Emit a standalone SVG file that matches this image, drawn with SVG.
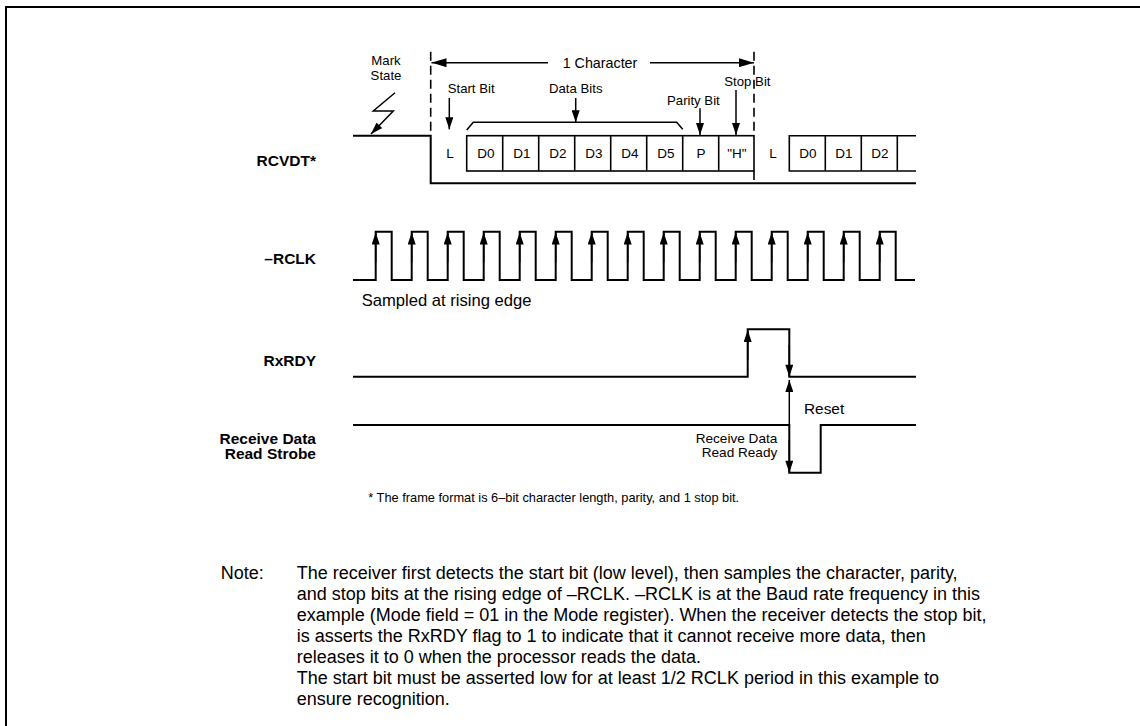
<svg xmlns="http://www.w3.org/2000/svg" width="1140" height="726" viewBox="0 0 1140 726">
<style>
text{font-family:"Liberation Sans",Arial,sans-serif;fill:#000}
.lbl{font-size:15.5px;font-weight:bold;text-anchor:end}
.sm{font-size:13.2px}
.bx{font-size:13.5px;text-anchor:middle}
.note{font-size:18px}
.wave{fill:none;stroke:#000;stroke-width:2;stroke-linejoin:miter}
.box{fill:none;stroke:#000;stroke-width:1.6}
.arr{fill:none;stroke:#000;stroke-width:1.5}
.dash{fill:none;stroke:#000;stroke-width:1.6;stroke-dasharray:9 5}
</style>
<defs>
<marker id="ah" viewBox="0 0 12 8" refX="12" refY="4" markerUnits="userSpaceOnUse" markerWidth="13" markerHeight="8" orient="auto"><path d="M0,0 L12,4 L0,8 z" fill="#000"/></marker>
<marker id="ahL" viewBox="0 0 15 9" refX="15" refY="4.5" markerUnits="userSpaceOnUse" markerWidth="15" markerHeight="9" orient="auto"><path d="M0,0 L15,4.5 L0,9 z" fill="#000"/></marker>
</defs>
<rect width="1140" height="726" fill="#fff"/>
<path d="M6,726 V7 H1140" fill="none" stroke="#000" stroke-width="2"/>

<g id="labels">
<text class="lbl" x="316" y="165.5">RCVDT*</text>
<text class="lbl" x="316" y="263.5">–RCLK</text>
<text class="lbl" x="316" y="365.5">RxRDY</text>
<text class="lbl" x="316" y="443.5">Receive Data</text>
<text class="lbl" x="316" y="459">Read Strobe</text>
</g>

<g id="rcvdt">
<path class="wave" d="M353,135.7 H430.7 V183.3 H916"/>
<line class="dash" x1="430.7" y1="51.7" x2="430.7" y2="135.7"/>
<line class="dash" x1="754" y1="51.7" x2="754" y2="135.7"/>
<line class="dash" x1="754" y1="171" x2="754" y2="183.3"/>
<rect class="box" x="466.7" y="135.7" width="287.3" height="35.3"/>
<path class="box" d="M502.7,135.7V171 M538.7,135.7V171 M574.7,135.7V171 M610.7,135.7V171 M646.7,135.7V171 M682.7,135.7V171 M718.7,135.7V171"/>
<path class="box" d="M916,135.7 H789.3 V171 H916 M825.3,135.7V171 M861.3,135.7V171 M897.3,135.7V171"/>
<text class="bx" x="450" y="158">L</text>
<text class="bx" x="486" y="158">D0</text>
<text class="bx" x="522" y="158">D1</text>
<text class="bx" x="558" y="158">D2</text>
<text class="bx" x="594" y="158">D3</text>
<text class="bx" x="630" y="158">D4</text>
<text class="bx" x="666" y="158">D5</text>
<text class="bx" x="701" y="158">P</text>
<text class="bx" x="737" y="158">"H"</text>
<text class="bx" x="773" y="158">L</text>
<text class="bx" x="808" y="158">D0</text>
<text class="bx" x="844" y="158">D1</text>
<text class="bx" x="880" y="158">D2</text>
</g>

<g id="rcvdt-annotations">
<text class="sm" x="386" y="65.4" text-anchor="middle">Mark</text>
<text class="sm" x="386" y="79.7" text-anchor="middle">State</text>
<text x="600" y="67.8" font-size="14.3" text-anchor="middle">1 Character</text>
<text class="sm" x="447.7" y="93">Start Bit</text>
<text class="sm" x="549" y="93">Data Bits</text>
<text class="sm" x="724.3" y="86.4">Stop Bit</text>
<text class="sm" x="667" y="105.4">Parity Bit</text>
<path class="arr" d="M466.7,130 L473.3,122.3 H676.7 L682.7,129.3"/>
</g>

<g id="rclk">
<path class="wave" d="M353,280 H375.7 V231.7 H391.7 V280 H411.7 V231.7 H427.7 V280 H447.7 V231.7 H463.7 V280 H483.7 V231.7 H499.7 V280 H519.7 V231.7 H535.7 V280 H555.7 V231.7 H571.7 V280 H591.7 V231.7 H607.7 V280 H627.7 V231.7 H643.7 V280 H663.7 V231.7 H679.7 V280 H699.7 V231.7 H715.7 V280 H735.7 V231.7 H751.7 V280 H771.7 V231.7 H787.7 V280 H807.7 V231.7 H823.7 V280 H843.7 V231.7 H859.7 V280 H879.7 V231.7 H895.7 V280 H915"/>
<text x="361.7" y="306" font-size="16.6">Sampled at rising edge</text>
</g>

<g id="rxrdy">
<path class="wave" d="M353,376.7 H747.7 V329.3 H789.3 V376.7 H916"/>
</g>

<g id="strobe">
<path class="wave" d="M353,425 H789.3 V472.7 H820.7 V425 H916"/>
<text x="804" y="413.8" font-size="15.4">Reset</text>
<text x="777.3" y="443.2" font-size="13.6" text-anchor="end">Receive Data</text>
<text x="777.3" y="456.6" font-size="13.6" text-anchor="end">Read Ready</text>
</g>

<g id="connectors">
<line class="arr" x1="446" y1="62.7" x2="431.5" y2="62.7" marker-end="url(#ahL)"/>
<line class="arr" x1="446" y1="62.7" x2="548" y2="62.7"/>
<line class="arr" x1="650" y1="62.7" x2="754" y2="62.7" marker-end="url(#ahL)"/>
<line class="arr" x1="449.3" y1="98" x2="449.3" y2="129.3" marker-end="url(#ah)"/>
<line class="arr" x1="575.7" y1="98" x2="575.7" y2="122.3" marker-end="url(#ah)"/>
<line class="arr" x1="700" y1="108.3" x2="700" y2="135" marker-end="url(#ah)"/>
<line class="arr" x1="736" y1="90" x2="736" y2="135" marker-end="url(#ah)"/>
<path class="arr" d="M395,92.7 L373.3,111 H393.3 L371,134" marker-end="url(#ah)"/>
<g stroke="#000" stroke-width="1.5">
<line x1="375.7" y1="262" x2="375.7" y2="232.5" marker-end="url(#ah)"/>
<line x1="411.7" y1="262" x2="411.7" y2="232.5" marker-end="url(#ah)"/>
<line x1="447.7" y1="262" x2="447.7" y2="232.5" marker-end="url(#ah)"/>
<line x1="483.7" y1="262" x2="483.7" y2="232.5" marker-end="url(#ah)"/>
<line x1="519.7" y1="262" x2="519.7" y2="232.5" marker-end="url(#ah)"/>
<line x1="555.7" y1="262" x2="555.7" y2="232.5" marker-end="url(#ah)"/>
<line x1="591.7" y1="262" x2="591.7" y2="232.5" marker-end="url(#ah)"/>
<line x1="627.7" y1="262" x2="627.7" y2="232.5" marker-end="url(#ah)"/>
<line x1="663.7" y1="262" x2="663.7" y2="232.5" marker-end="url(#ah)"/>
<line x1="699.7" y1="262" x2="699.7" y2="232.5" marker-end="url(#ah)"/>
<line x1="735.7" y1="262" x2="735.7" y2="232.5" marker-end="url(#ah)"/>
<line x1="771.7" y1="262" x2="771.7" y2="232.5" marker-end="url(#ah)"/>
<line x1="807.7" y1="262" x2="807.7" y2="232.5" marker-end="url(#ah)"/>
<line x1="843.7" y1="262" x2="843.7" y2="232.5" marker-end="url(#ah)"/>
<line x1="879.7" y1="262" x2="879.7" y2="232.5" marker-end="url(#ah)"/>
<line x1="747.7" y1="360" x2="747.7" y2="330" marker-end="url(#ah)"/>
<line x1="789.3" y1="345" x2="789.3" y2="376.7" marker-end="url(#ah)"/>
<line x1="789.3" y1="425" x2="789.3" y2="380" marker-end="url(#ah)"/>
<line x1="789.3" y1="440" x2="789.3" y2="472.7" marker-end="url(#ah)"/>
</g>
</g>

<g id="notes">
<text x="368.3" y="501.5" font-size="12.8">* The frame format is 6–bit character length, parity, and 1 stop bit.</text>
<text class="note" x="220.7" y="578.5">Note:</text>
<text class="note" x="296.7" y="578.5">The receiver first detects the start bit (low level), then samples the character, parity,</text>
<text class="note" x="296.7" y="599.5">and stop bits at the rising edge of –RCLK. –RCLK is at the Baud rate frequency in this</text>
<text class="note" x="296.7" y="620.5">example (Mode field = 01 in the Mode register). When the receiver detects the stop bit,</text>
<text class="note" x="296.7" y="641.5">is asserts the RxRDY flag to 1 to indicate that it cannot receive more data, then</text>
<text class="note" x="296.7" y="662.5">releases it to 0 when the processor reads the data.</text>
<text class="note" x="296.7" y="683.5">The start bit must be asserted low for at least 1/2 RCLK period in this example to</text>
<text class="note" x="296.7" y="704.5">ensure recognition.</text>
</g>
</svg>
